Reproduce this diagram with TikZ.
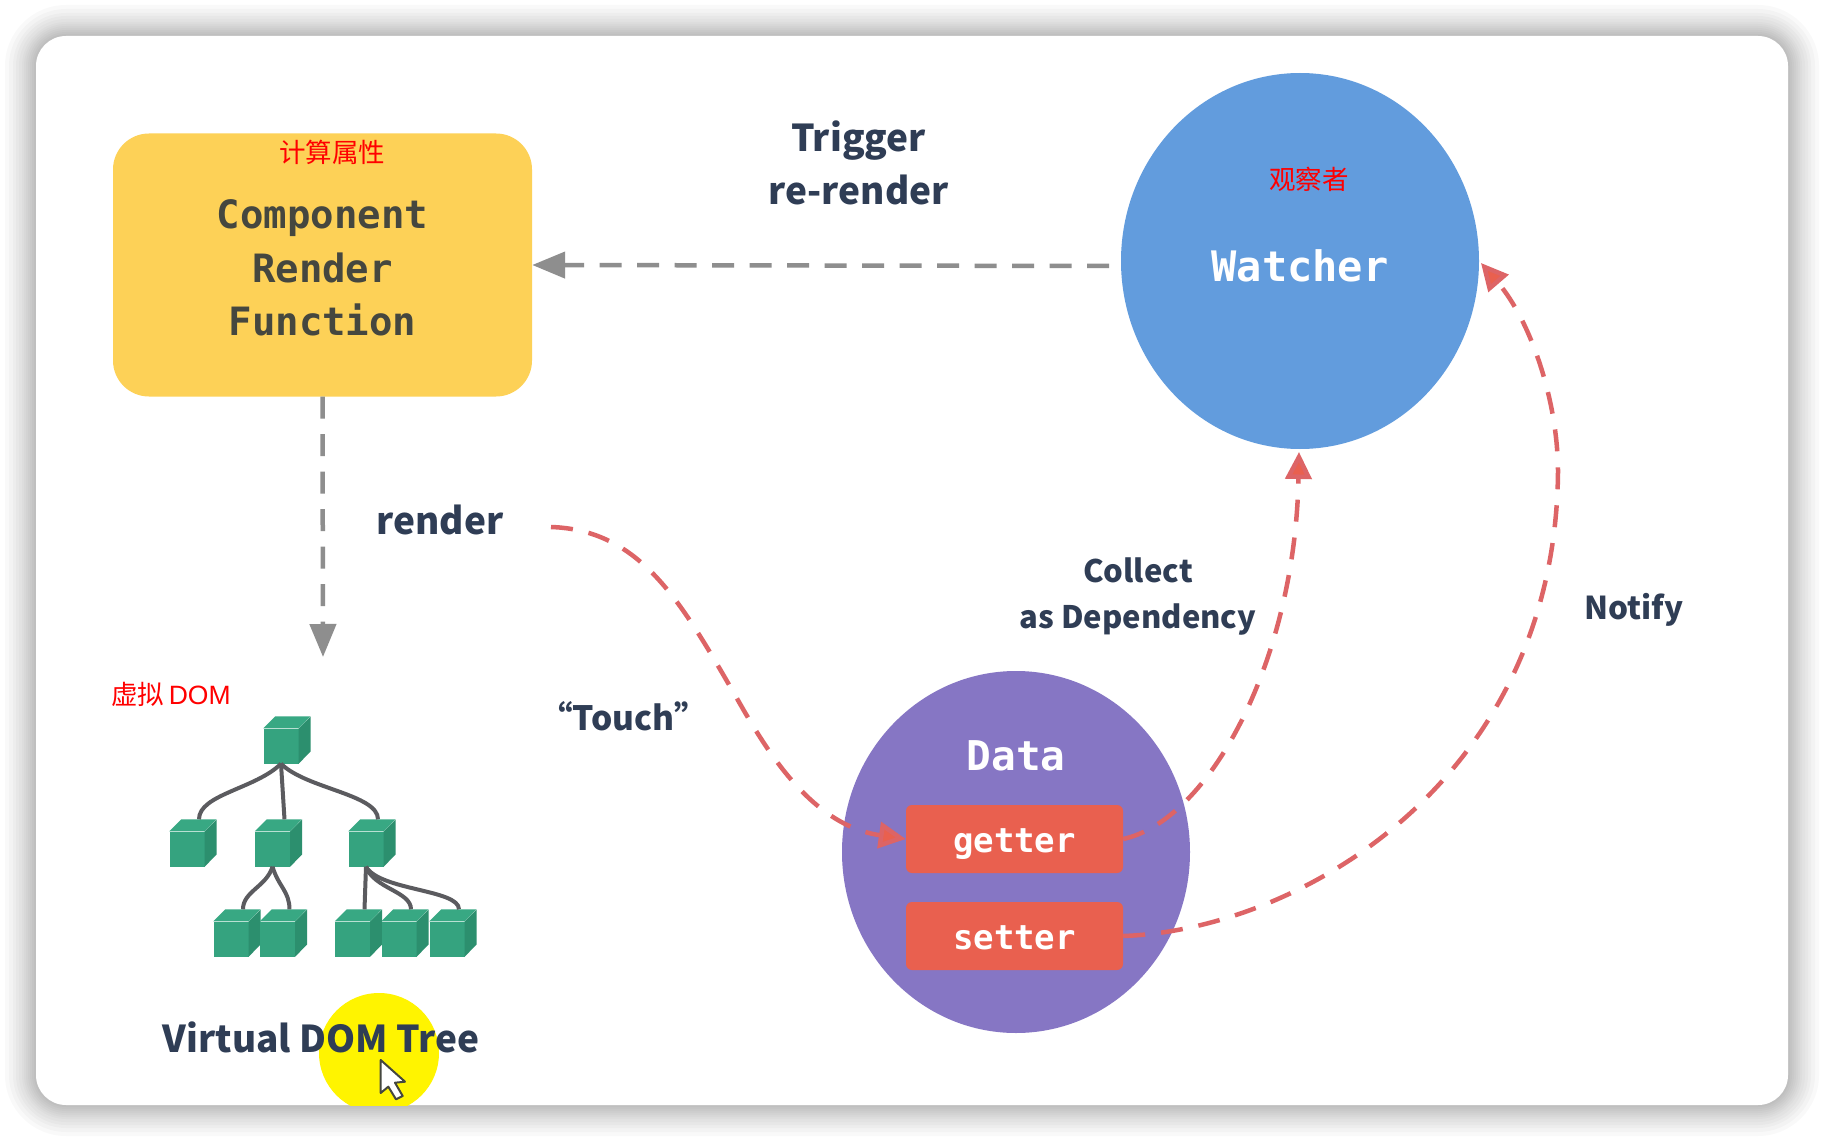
\documentclass[tikz,border=0pt]{standalone}
\usepackage{fontspec}
\setmainfont{Liberation Sans}
\setmonofont{DejaVu Sans Mono}
\newfontfamily\cjkfont{Noto Sans CJK SC}
\usetikzlibrary{arrows.meta,shapes.geometric}
\definecolor{cardshadow}{HTML}{000000}
\definecolor{renderyellow}{HTML}{FDD157}
\definecolor{watcherblue}{HTML}{629CDD}
\definecolor{datapurple}{HTML}{8676C4}
\definecolor{accessorred}{HTML}{E9604F}
\definecolor{arrowred}{HTML}{DD6466}
\definecolor{arrowgray}{HTML}{8E8E8E}
\definecolor{labelslate}{HTML}{2F3D55}
\definecolor{boxtext}{HTML}{45473F}
\definecolor{cubefront}{HTML}{35A37F}
\definecolor{cubeside}{HTML}{2C8F6E}
\definecolor{cubetop}{HTML}{38A883}
\definecolor{branchgray}{HTML}{5B5B5F}
\definecolor{spotyellow}{HTML}{FFF400}
\begin{document}
\begin{tikzpicture}[
  x=1pt,
  y=-1pt,
  card/.style={rectangle,fill=white,rounded corners=30pt,minimum width=1752pt,minimum height=1069pt,inner sep=0pt},
  renderbox/.style={rectangle,fill=renderyellow,rounded corners=36pt,minimum width=419pt,minimum height=263pt,
    align=center,text=boxtext,font=\fontsize{39}{53.5}\selectfont\ttfamily\bfseries},
  watcher/.style={ellipse,fill=watcherblue,minimum width=358pt,minimum height=376pt,inner sep=0pt,
    text=white,text height=42pt,font=\fontsize{42}{50}\selectfont\ttfamily\bfseries},
  datablob/.style={ellipse,fill=datapurple,minimum width=348pt,minimum height=362pt,inner sep=0pt},
  accessor/.style={rectangle,fill=accessorred,rounded corners=6pt,minimum width=217pt,minimum height=68pt,inner sep=0pt,
    text=white,text height=26pt,text depth=0pt,font=\fontsize{34}{40}\selectfont\ttfamily\bfseries},
  datatitle/.style={text=white,font=\fontsize{41}{48}\selectfont\ttfamily\bfseries},
  steplabel/.style={align=center,text=labelslate,inner sep=0pt,font=\fontsize{37}{53.5}\selectfont\cjkfont\bfseries},
  smalllabel/.style={align=center,text=labelslate,inner sep=0pt,font=\fontsize{31}{46.5}\selectfont\cjkfont\bfseries},
  notelabel/.style={text=red,inner sep=0pt,font=\fontsize{26.5}{30}\selectfont\cjkfont},
  graylink/.style={draw=arrowgray,line width=4.5pt,dash pattern=on 22pt off 15.5pt,-{Triangle[length=33pt,width=26pt]}},
  redlink/.style={draw=arrowred,line width=4.5pt,dash pattern=on 22pt off 16pt,-{Triangle[length=27pt,width=26pt,fill=accessorred]}},
  branch/.style={draw=branchgray,line width=4pt},
  cube/.style={rectangle,fill=cubefront,minimum size=35pt,inner sep=0pt}
]
  \useasboundingbox (0,0) rectangle (1824,1142);
  \foreach \r in {2,4,6,8,10,12,14,17,20,23,27,31}
    \fill[cardshadow,opacity=0.022,rounded corners={(30+\r)*1pt}] (36-\r,36-\r) rectangle (1788+\r,1105+\r);
  \node[card] (card) at (912,570.5) {};

  \begin{scope}
    \clip (36,36) rectangle (1788,1105);
    \fill[spotyellow] (379,1053) circle (60);
  \end{scope}

  \node[renderbox] (render) at (322.5,265) {\rule{0pt}{35pt}Component\\Render\\Function};
  \node[watcher] (watch) at (1300,261) {Watcher};
  \node[datablob] (data) at (1016,852) {};
  \node[datatitle] (datatext) at (1016,756) {Data};
  \node[accessor] (getter) at (1014.5,839) {getter};
  \node[accessor] (setter) at (1014.5,936) {setter};

  \node[notelabel] (rendernote) at (332,152) {计算属性};
  \node[notelabel] (watchnote) at (1309,179) {观察者};
  \node[notelabel] (treenote) at (171,694) {虚拟\,{\rmfamily DOM}};

  \node[steplabel] (trigger) at (858.5,163) {Trigger\\re-render};
  \node[steplabel] (renderlabel) at (440,520) {render};
  \node[smalllabel,font=\fontsize{33.5}{40}\selectfont\cjkfont\bfseries] (touch) at (623.5,716) {“Touch”};
  \node[smalllabel] (collect) at (1138,596.5) {Collect\\as Dependency};
  \node[smalllabel,font=\fontsize{31.5}{40}\selectfont\cjkfont\bfseries] (notify) at (1634,610) {Notify};
  \node[steplabel] (treelabel) at (321,1037) {Virtual DOM Tree};

  \foreach \n/\x/\y in {t0/281/746, t1/187/849, t2/272.5/849, t3/366/849,
      t21/231/939, t22/277.5/939, t31/352.5/939, t32/399/939, t33/447/939} {
    \node[cube] (\n) at (\x,\y) {};
    \fill[cubeside] (\n.north east) -- ++(12,-12) -- ++(0,35) -- (\n.south east) -- cycle;
    \fill[cubetop] (\n.north west) -- ++(12,-12) -- ++(35,0) -- (\n.north east) -- cycle;
    \coordinate (top\n) at ([shift={(12,-12)}]\n.north);
  }
  \draw[branch] (t0.south) .. controls +(-25,25) and +(0,-25) .. (topt1);
  \draw[branch] (t0.south) -- (topt2);
  \draw[branch] (t0.south) .. controls +(25,25) and +(0,-25) .. (topt3);
  \draw[branch] (t2.south) .. controls +(-6,20) and +(0,-18) .. (topt21);
  \draw[branch] (t2.south) .. controls +(6,20) and +(0,-18) .. (topt22);
  \draw[branch] (t3.south) -- (topt31);
  \draw[branch] (t3.south) .. controls +(8,22) and +(0,-18) .. (topt32);
  \draw[branch] (t3.south) .. controls +(14,24) and +(0,-20) .. (topt33);

  \coordinate (triggerstart) at (1109,266);
  \coordinate (treearrow) at (323,657);
  \coordinate (touchstart) at (551,527);
  \coordinate (touchbend) at (735,695);
  \coordinate (notifybend) at (1558,472);
  \draw[graylink] (triggerstart) -- (render.east);
  \draw[graylink] (render.south) -- (treearrow);
  \draw[redlink] (touchstart) .. controls (640,530) and (680,600) .. (touchbend)
    .. controls (765,748) and (810,825) .. (getter.west);
  \draw[redlink] (getter.east) .. controls (1210,820) and (1295,660) .. (1299,452);
  \draw[redlink] (setter.east) .. controls (1300,930) and (1555,780) .. (notifybend)
    .. controls (1558,400) and (1530,320) .. (1481,263);

  \filldraw[fill=white,draw=boxtext,line width=2pt,line join=round]
    (380.7,1060) -- (380.7,1093) -- (388.3,1086.7) -- (396,1099.3) -- (402.7,1096) -- (395,1082.7) -- (405,1081.7) -- cycle;
\end{tikzpicture}
\end{document}
